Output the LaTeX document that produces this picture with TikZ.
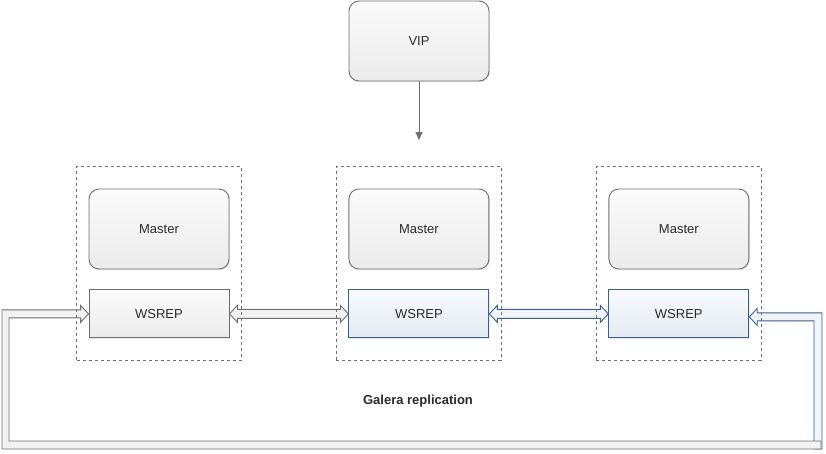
\documentclass[tikz,border=0pt]{standalone}
\usepackage{fontspec}
\setmainfont{Liberation Sans}
\usetikzlibrary{positioning,calc,fit,shadows,arrows.meta}
\definecolor{boxline}{HTML}{6E6E6E}
\definecolor{boxtop}{HTML}{FBFBFB}
\definecolor{boxbot}{HTML}{EBEBEB}
\definecolor{blueline}{HTML}{3D5F8F}
\definecolor{bluetop}{HTML}{F8FAFD}
\definecolor{bluebot}{HTML}{E4EAF3}
\definecolor{pipegray}{HTML}{F2F2F2}
\definecolor{pipeblue}{HTML}{F1F4F9}
\definecolor{txt}{HTML}{2B2B2B}

\begin{document}
\begin{tikzpicture}[x=1pt,y=-1pt,>={Triangle[length=8pt,width=7pt]},
                    box/.style={draw=boxline,line width=0.9pt,top color=boxtop,bottom color=boxbot,text=txt,
                                font=\fontsize{13}{15}\selectfont,minimum width=140pt,
                                drop shadow={shadow xshift=1.2pt,shadow yshift=-1.2pt,opacity=0.18}},
                    round box/.style={box,rounded corners=10pt,minimum height=80pt},
                    gray box/.style={box,minimum height=48pt},
                    blue box/.style={box,draw=blueline,top color=bluetop,bottom color=bluebot,minimum height=48pt},
                    group box/.style={draw=boxline,dash pattern=on 3pt off 3pt,line width=0.7pt,inner xsep=12pt,inner ysep=22pt},
                    gray pipe/.style={draw=boxline,fill=pipegray,line width=0.9pt},
                    blue pipe/.style={draw=blueline,fill=pipeblue,line width=0.9pt}]
\useasboundingbox (0,0) rectangle (826,453);

\node[round box] (vip) at (419,41) {VIP};
\node[round box] (m1) at (159,229) {Master};
\node[round box,right=119pt of m1] (m2) {Master};
\node[round box,right=119pt of m2] (m3) {Master};
\node[gray box,below=20pt of m1] (w1) {WSREP};
\node[blue box,below=20pt of m2] (w2) {WSREP};
\node[blue box,below=20pt of m3] (w3) {WSREP};
\node[font=\bfseries\fontsize{13}{15}\selectfont,text=txt] (rep) at (418,401) {Galera replication};

\coordinate (vipend) at (419,140);
\coordinate (loopL) at (2,449);
\coordinate (loopR) at (822,449);

\draw[->,boxline,line width=0.9pt] (vip) -- (vipend);

\draw[blue pipe] ($(w3.east)+(0,3)$) -- ++(8,-8.5) -- ++(0,4.5) -| (loopR) -- ++(-8,0)
    |- ($(w3.east)+(8,7)$) -- ++(0,4.5) -- cycle;
\draw[gray pipe] (w1.west) -- ++(-8,-8.5) -- ++(0,4.5) -| (loopL) -- ($(loopR)+(-1,0)$) -- ++(0,-8)
    -- ($(loopL)+(7,-8)$) |- ($(w1.west)+(-8,4)$) -- ++(0,4.5) -- cycle;

\draw[gray pipe] (w1.east) -- ++(8,-8.5) -- ++(0,4) -- ($(w2.west)+(-8,-4.5)$) -- ++(0,-4)
    -- (w2.west) -- ++(-8,8.5) -- ++(0,-4) -- ($(w1.east)+(8,4.5)$) -- ++(0,4) -- cycle;
\draw[blue pipe] (w2.east) -- ++(8,-8.5) -- ++(0,4) -- ($(w3.west)+(-8,-4.5)$) -- ++(0,-4)
    -- (w3.west) -- ++(-8,8.5) -- ++(0,-4) -- ($(w2.east)+(8,4.5)$) -- ++(0,4) -- cycle;

\node[group box,fit=(m1)(w1)] (g1) {};
\node[group box,fit=(m2)(w2)] (g2) {};
\node[group box,fit=(m3)(w3)] (g3) {};
\end{tikzpicture}
\end{document}
